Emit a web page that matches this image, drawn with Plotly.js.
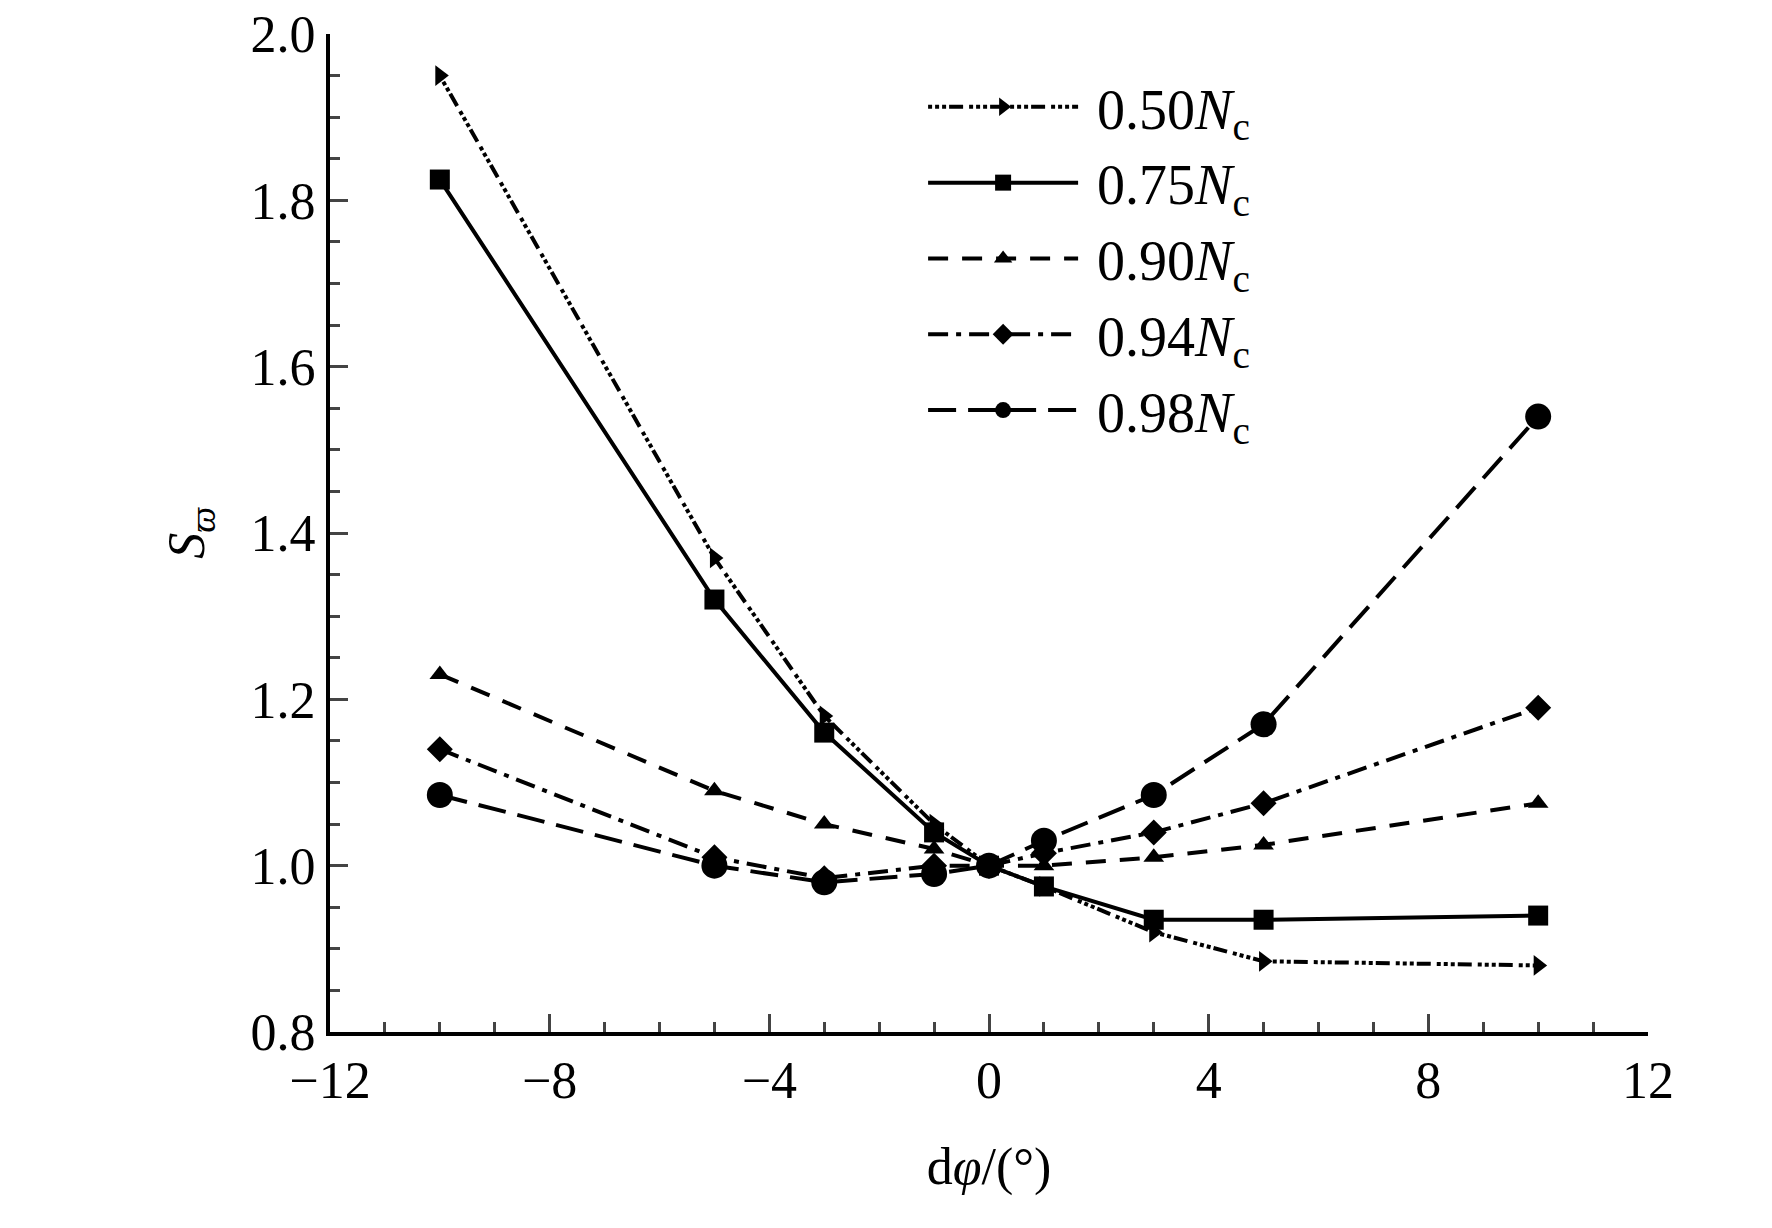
<!DOCTYPE html>
<html><head><script src="https://cdn.plot.ly/plotly-3.0.1.min.js"></script>
<style>body{margin:0;background:#fff}</style></head>
<body><div id="plot" style="width:1772px;height:1228px"></div>
<script>
var dphi = [-10, -5, -3, -1, 0, 1, 3, 5, 10];
var s050 = [1.95, 1.37, 1.18, 1.05, 1.0, 0.975, 0.92, 0.885, 0.88];
var s075 = [1.825, 1.32, 1.16, 1.04, 1.0, 0.975, 0.935, 0.935, 0.94];
var s090 = [1.23, 1.09, 1.05, 1.02, 1.0, 1.0, 1.01, 1.025, 1.075];
var s094 = [1.14, 1.01, 0.985, 1.0, 1.0, 1.015, 1.04, 1.075, 1.19];
var s098 = [1.085, 1.0, 0.98, 0.99, 1.0, 1.03, 1.085, 1.17, 1.54];
var names = ['0.50', '0.75', '0.90', '0.94', '0.98'];

function tr(y, i, sym, dash, size) {
  return {
    x: dphi, y: y, type: 'scatter', mode: 'lines+markers',
    name: ' ' + names[i] + '<i>N</i><sub>c</sub>',
    line: {color: '#000', width: 4, dash: dash},
    marker: {color: '#000', symbol: sym, size: size}
  };
}
var data = [
  tr(s050, 0, 'triangle-right', '4px,3px,4px,3px,4px,3px,14px,6px', 18),
  tr(s075, 1, 'square', 'solid', 20),
  tr(s090, 2, 'triangle-up', '20px,14px', 18),
  tr(s094, 3, 'diamond', '20px,8px,5px,8px', 20),
  tr(s098, 4, 'circle', '28px,12px', 26)
];
var font = {family: 'Liberation Serif, Times New Roman, serif', size: 52, color: '#000'};
var layout = {
  width: 1772, height: 1228,
  margin: {l: 330, r: 124, t: 34, b: 196},
  paper_bgcolor: '#fff', plot_bgcolor: '#fff',
  font: font,
  showlegend: true,
  legend: {x: 0.45, y: 0.97, xanchor: 'left', yanchor: 'top', bgcolor: 'rgba(0,0,0,0)',
           font: {family: font.family, size: 56, color: '#000'}, itemwidth: 150, tracegroupgap: 14},
  xaxis: {
    range: [-12, 12], dtick: 4, tick0: -12, ticks: 'inside', ticklen: 18, tickwidth: 3,
    showline: true, linewidth: 4, linecolor: '#000', showgrid: false, zeroline: false,
    minor: {dtick: 1, ticks: 'inside', ticklen: 10, tickwidth: 3, showgrid: false},
    tickformat: 'd',
    title: {text: 'd<i>φ</i>/(°)', font: font, standoff: 40}
  },
  yaxis: {
    range: [0.8, 2.0], dtick: 0.2, ticks: 'inside', ticklen: 18, tickwidth: 3,
    showline: true, linewidth: 4, linecolor: '#000', showgrid: false, zeroline: false,
    minor: {dtick: 0.05, ticks: 'inside', ticklen: 10, tickwidth: 3, showgrid: false},
    tickformat: '.1f',
    title: {text: '<i>S</i><sub><i>ϖ</i></sub>', font: font, standoff: 30}
  }
};
Plotly.newPlot('plot', data, layout, {displayModeBar: false});
</script></body></html>
